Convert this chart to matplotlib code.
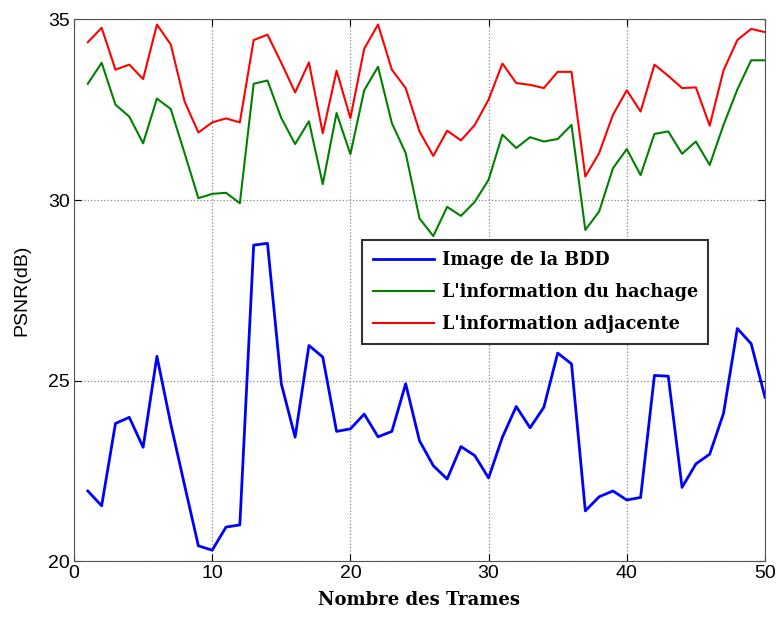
import matplotlib.pyplot as plt

trames = list(range(1, 51))

image_bdd = [21.94, 21.53, 23.81, 23.98, 23.15, 25.67, 23.8, 22.1, 20.42, 20.3,
             20.94, 21.0, 28.75, 28.8, 24.91, 23.43, 25.97, 25.65, 23.59, 23.66,
             24.07, 23.44, 23.59, 24.91, 23.33, 22.64, 22.27, 23.17, 22.92, 22.3,
             23.43, 24.28, 23.69, 24.26, 25.76, 25.46, 21.39, 21.78, 21.94, 21.69,
             21.76, 25.14, 25.12, 22.04, 22.69, 22.96, 24.09, 26.44, 26.02, 24.54]

info_hachage = [33.22, 33.8, 32.64, 32.31, 31.57, 32.81, 32.52, 31.3, 30.05, 30.17,
                30.2, 29.91, 33.22, 33.31, 32.27, 31.55, 32.18, 30.44, 32.41, 31.27,
                33.04, 33.69, 32.13, 31.3, 29.49, 29.0, 29.81, 29.56, 29.95, 30.56,
                31.81, 31.44, 31.74, 31.62, 31.69, 32.08, 29.17, 29.68, 30.88, 31.41,
                30.69, 31.83, 31.9, 31.28, 31.62, 30.97, 32.08, 33.06, 33.87, 33.87]

info_adjacente = [34.37, 34.77, 33.61, 33.75, 33.35, 34.86, 34.31, 32.73, 31.87, 32.15,
                  32.26, 32.15, 34.43, 34.58, 33.8, 32.98, 33.81, 31.85, 33.58, 32.27,
                  34.19, 34.86, 33.61, 33.1, 31.9, 31.22, 31.92, 31.65, 32.08, 32.78,
                  33.78, 33.24, 33.19, 33.1, 33.55, 33.55, 30.65, 31.3, 32.36, 33.04,
                  32.45, 33.75, 33.44, 33.1, 33.12, 32.06, 33.59, 34.43, 34.74, 34.65]

labels = ["Image de la BDD", "L'information du hachage", "L'information adjacente"]

fig = plt.figure(figsize=(7.79, 6.21), dpi=100)
ax = fig.add_axes([0.095, 0.0966, 0.887, 0.872])

ax.plot(trames, image_bdd, color=(0, 0, 1), linewidth=2.0, label=labels[0])
ax.plot(trames, info_hachage, color=(0, 0.5, 0), linewidth=1.5, label=labels[1])
ax.plot(trames, info_adjacente, color=(1, 0, 0), linewidth=1.5, label=labels[2])

ax.set_xlim(0, 50)
ax.set_ylim(20, 35)
ax.set_xticks(range(0, 51, 10))
ax.set_yticks([20, 25, 30, 35])
ax.tick_params(direction="in", top=True, right=True, labelsize=14, length=5, pad=3)
for lbl in ax.get_xticklabels() + ax.get_yticklabels():
    lbl.set_family("Liberation Sans")
ax.grid(True, linestyle=":", color="#888888", linewidth=0.9)
for s in ax.spines.values():
    s.set_color("#555555")

ax.set_xlabel("Nombre des Trames", family="DejaVu Serif", fontweight="bold", fontsize=13,
              labelpad=6)
ax.set_ylabel("PSNR(dB)", family="Liberation Sans", fontsize=14, labelpad=13)

leg = ax.legend(loc="upper left", bbox_to_anchor=(0.417, 0.592), fancybox=False,
                edgecolor="#333333", framealpha=1, handlelength=3.5, handletextpad=0.4,
                borderpad=0.6, labelspacing=0.8, borderaxespad=0,
                prop={"family": "DejaVu Serif", "weight": "bold", "size": 12.7})
leg.get_frame().set_linewidth(1.5)

fig.savefig("out.png", dpi=100)
